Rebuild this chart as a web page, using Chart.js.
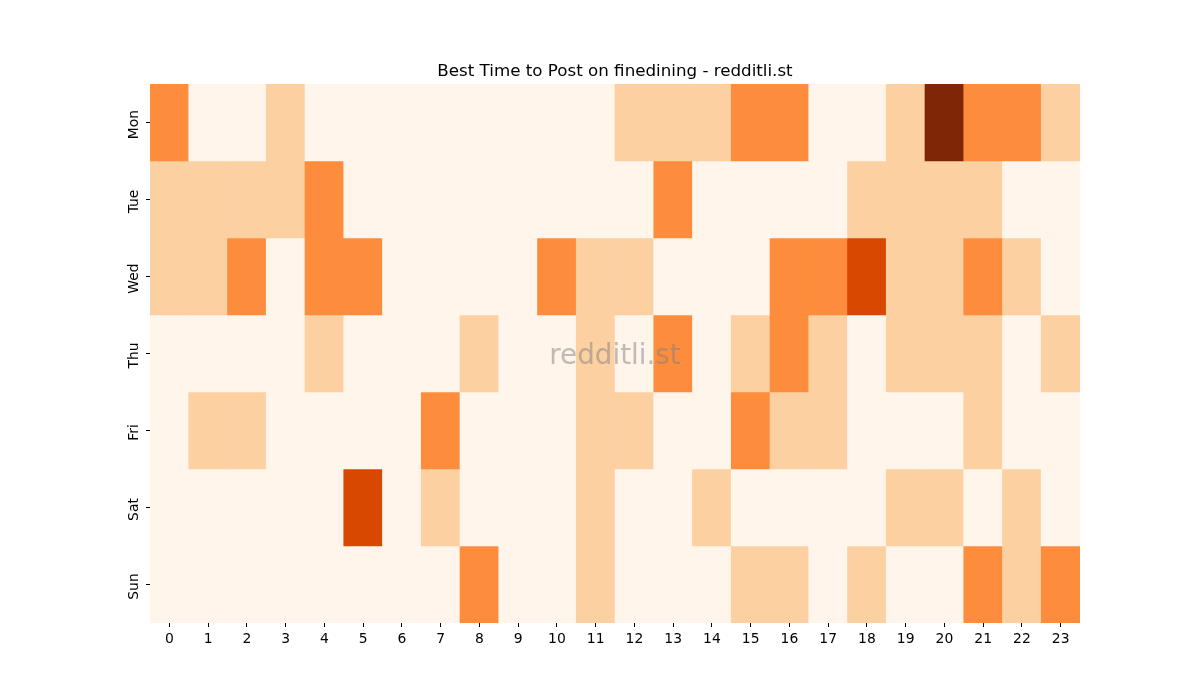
<!DOCTYPE html>
<html>
<head>
<meta charset="utf-8">
<script src="https://cdn.jsdelivr.net/npm/chart.js@4/dist/chart.umd.min.js"></script>
<style>
	html, body { margin: 0; padding: 0; background: #fff; }
	#wrap { width: 1200px; height: 700px; }
</style>
</head>
<body>
<div id="wrap"><canvas id="heatChart" width="1200" height="700"></canvas></div>
<script>
var hours = ['0','1','2','3','4','5','6','7','8','9','10','11','12','13','14','15','16','17','18','19','20','21','22','23'];
var days = ['Mon', 'Tue', 'Wed', 'Thu', 'Fri', 'Sat', 'Sun'];

// post activity per hour, one list per weekday
var mon = [2,0,0,1,0,0,0,0,0,0,0,0,1,1,1,2,2,0,0,1,4,2,2,1];
var tue = [1,1,1,1,2,0,0,0,0,0,0,0,0,2,0,0,0,0,1,1,1,1,0,0];
var wed = [1,1,2,0,2,2,0,0,0,0,2,1,1,0,0,0,2,2,3,1,1,2,1,0];
var thu = [0,0,0,0,1,0,0,0,1,0,0,1,0,2,0,1,2,1,0,1,1,1,0,1];
var fri = [0,1,1,0,0,0,0,2,0,0,0,1,1,0,0,2,1,1,0,0,0,1,0,0];
var sat = [0,0,0,0,0,3,0,1,0,0,0,1,0,0,1,0,0,0,0,1,1,0,1,0];
var sun = [0,0,0,0,0,0,0,0,2,0,0,1,0,0,0,1,1,0,1,0,0,2,1,2];

var rows = [mon, tue, wed, thu, fri, sat, sun];

// Oranges colour map, steps 0..4
var palette = ['#fff5eb', '#fdd0a2', '#fd8d3c', '#d94801', '#7f2704'];

function cellColor(v){
	return palette[Math.max(0, Math.min(palette.length - 1, v))];
}

var datasets = [];
for (var r = 0; r < rows.length; r++){
	var vals = rows[r];
	var cells = [];
	var colors = [];
	for (var h = 0; h < hours.length; h++){
		cells.push([r, r + 1]);
		colors.push(cellColor(vals[h]));
	}
	datasets.push({
		label: days[r],
		data: cells,
		backgroundColor: colors,
		borderWidth: 0,
		barPercentage: 1,
		categoryPercentage: 1,
		grouped: false
	});
}

var overlay = {
	id: 'overlay',
	afterDatasetsDraw: function(chart){
		var ctx = chart.ctx;
		var area = chart.chartArea;
		var cx = (area.left + area.right) / 2;
		ctx.save();
		ctx.fillStyle = 'rgba(128,128,128,0.5)';
		ctx.font = '27.8px "DejaVu Sans"';
		ctx.textAlign = 'center';
		ctx.textBaseline = 'middle';
		ctx.fillText('redditli.st', cx, (area.top + area.bottom) / 2 + 3);
		ctx.fillStyle = '#000';
		ctx.font = '16.7px "DejaVu Sans"';
		ctx.fillText('Best Time to Post on finedining - redditli.st', cx, 72);
		ctx.restore();
	}
};

Chart.defaults.font.family = '"DejaVu Sans"';
Chart.defaults.color = '#000';

new Chart(document.getElementById('heatChart'), {
	type: 'bar',
	data: {
		labels: hours,
		datasets: datasets
	},
	options: {
		responsive: false,
		animation: false,
		layout: {
			padding: { left: 110, right: 120, top: 84, bottom: 37 }
		},
		plugins: {
			legend: { display: false },
			tooltip: { enabled: false },
			title: { display: false }
		},
		scales: {
			x: {
				type: 'category',
				offset: true,
				grid: { display: true, drawOnChartArea: false, drawTicks: true, tickLength: 4, color: '#000', lineWidth: 1, offset: false },
				border: { display: false },
				ticks: { font: { size: 13.9 }, color: '#000', padding: 4, maxRotation: 0, autoSkip: false },
				afterFit: function(scale){ scale.height = 40; }
			},
			y: {
				type: 'linear',
				min: 0,
				max: 7,
				reverse: true,
				grid: { display: true, drawOnChartArea: false, drawTicks: true, tickLength: 4, color: '#000', lineWidth: 1 },
				border: { display: false },
				afterBuildTicks: function(scale){
					scale.ticks = days.map(function(d, i){ return { value: i + 0.5 }; });
				},
				ticks: {
					font: { size: 13.9 },
					color: '#000',
					padding: -4,
					labelOffset: 2,
					minRotation: 90,
					maxRotation: 90,
					crossAlign: 'center',
					autoSkip: false,
					callback: function(v){ return days[Math.floor(v)]; }
				},
				afterFit: function(scale){ scale.width = 40; }
			}
		}
	},
	plugins: [overlay]
});
</script>
</body>
</html>
